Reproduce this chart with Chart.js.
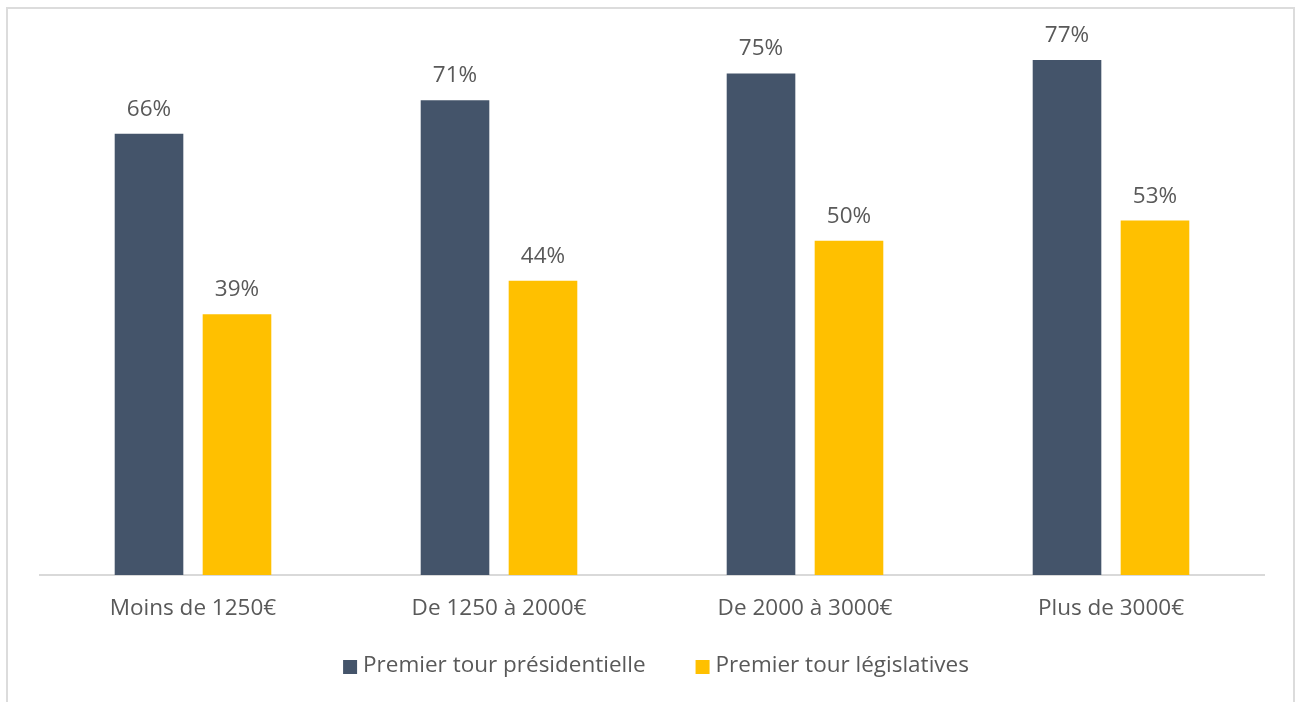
<!DOCTYPE html>
<html>
<head>
<meta charset="utf-8">
<script src="https://cdn.jsdelivr.net/npm/chart.js@4"></script>
<style>
  body { margin: 0; background: #fff; overflow: hidden; }
  #frame { position: absolute; left: 6px; top: 7px; width: 1289px; height: 710px; border: 2px solid #dcdcdc; box-sizing: border-box; }
  #wrap { position: absolute; left: 0; top: 0; width: 1299px; height: 702px; }
</style>
</head>
<body>
<div id="frame"></div>
<div id="wrap"><canvas id="myChart"></canvas></div>
<script>
var categories = ['Moins de 1250€', 'De 1250 à 2000€', 'De 2000 à 3000€', 'Plus de 3000€'];
var presidentielle = [66, 71, 75, 77];
var legislatives = [39, 44, 50, 53];
var seriesNames = ['Premier tour présidentielle', 'Premier tour législatives'];

var FONT = '22.5px "Open Sans"';

// labels au-dessus des barres
var valueLabels = {
  id: 'valueLabels',
  afterDatasetsDraw: function(chart) {
    var ctx = chart.ctx;
    ctx.save();
    ctx.font = FONT;
    ctx.fillStyle = '#595959';
    ctx.textAlign = 'center';
    ctx.textBaseline = 'alphabetic';
    chart.data.datasets.forEach(function(ds, i) {
      chart.getDatasetMeta(i).data.forEach(function(bar, j) {
        ctx.fillText(ds.data[j] + '%', bar.x, bar.y - 18);
      });
    });
    ctx.restore();
  }
};

// legende dessinee a la main (espacement comme Excel)
var bottomLegend = {
  id: 'bottomLegend',
  afterDraw: function(chart) {
    var ctx = chart.ctx;
    var ds = chart.data.datasets;
    ctx.save();
    ctx.font = FONT;
    var box = 14, gap = 6, itemGap = 50;
    var total = 0;
    ds.forEach(function(d, i) {
      total += box + gap + ctx.measureText(d.label).width;
      if (i > 0) total += itemGap;
    });
    var x = 656 - total / 2;
    var y = 666;
    ctx.textBaseline = 'middle';
    ctx.textAlign = 'left';
    ds.forEach(function(d) {
      ctx.fillStyle = d.backgroundColor;
      ctx.fillRect(x, y - box / 2 + 1, box, box);
      x += box + gap;
      ctx.fillStyle = '#595959';
      ctx.fillText(d.label, x, y);
      x += ctx.measureText(d.label).width + itemGap;
    });
    ctx.restore();
  }
};

var ctx = document.getElementById('myChart').getContext('2d');

var myChart = new Chart(ctx, {
  type: 'bar',
  data: {
    labels: categories,
    datasets: [{
      label: seriesNames[0],
      data: presidentielle,
      backgroundColor: '#44546A',
      categoryPercentage: 0.575,
      barPercentage: 0.78
    }, {
      label: seriesNames[1],
      data: legislatives,
      backgroundColor: '#FFC000',
      categoryPercentage: 0.575,
      barPercentage: 0.78
    }]
  },
  options: {
    responsive: true,
    maintainAspectRatio: false,
    animation: false,
    layout: { padding: { left: 40, right: 35, top: 40, bottom: 68 } },
    scales: {
      x: {
        grid: { display: false },
        border: { color: '#d9d9d9', width: 2 },
        ticks: { color: '#595959', font: { family: 'Open Sans', size: 22.5 }, padding: 12 }
      },
      y: {
        display: false,
        min: 0,
        max: 80
      }
    },
    plugins: {
      legend: { display: false },
      tooltip: { enabled: false }
    }
  },
  plugins: [valueLabels, bottomLegend]
});
</script>
</body>
</html>
